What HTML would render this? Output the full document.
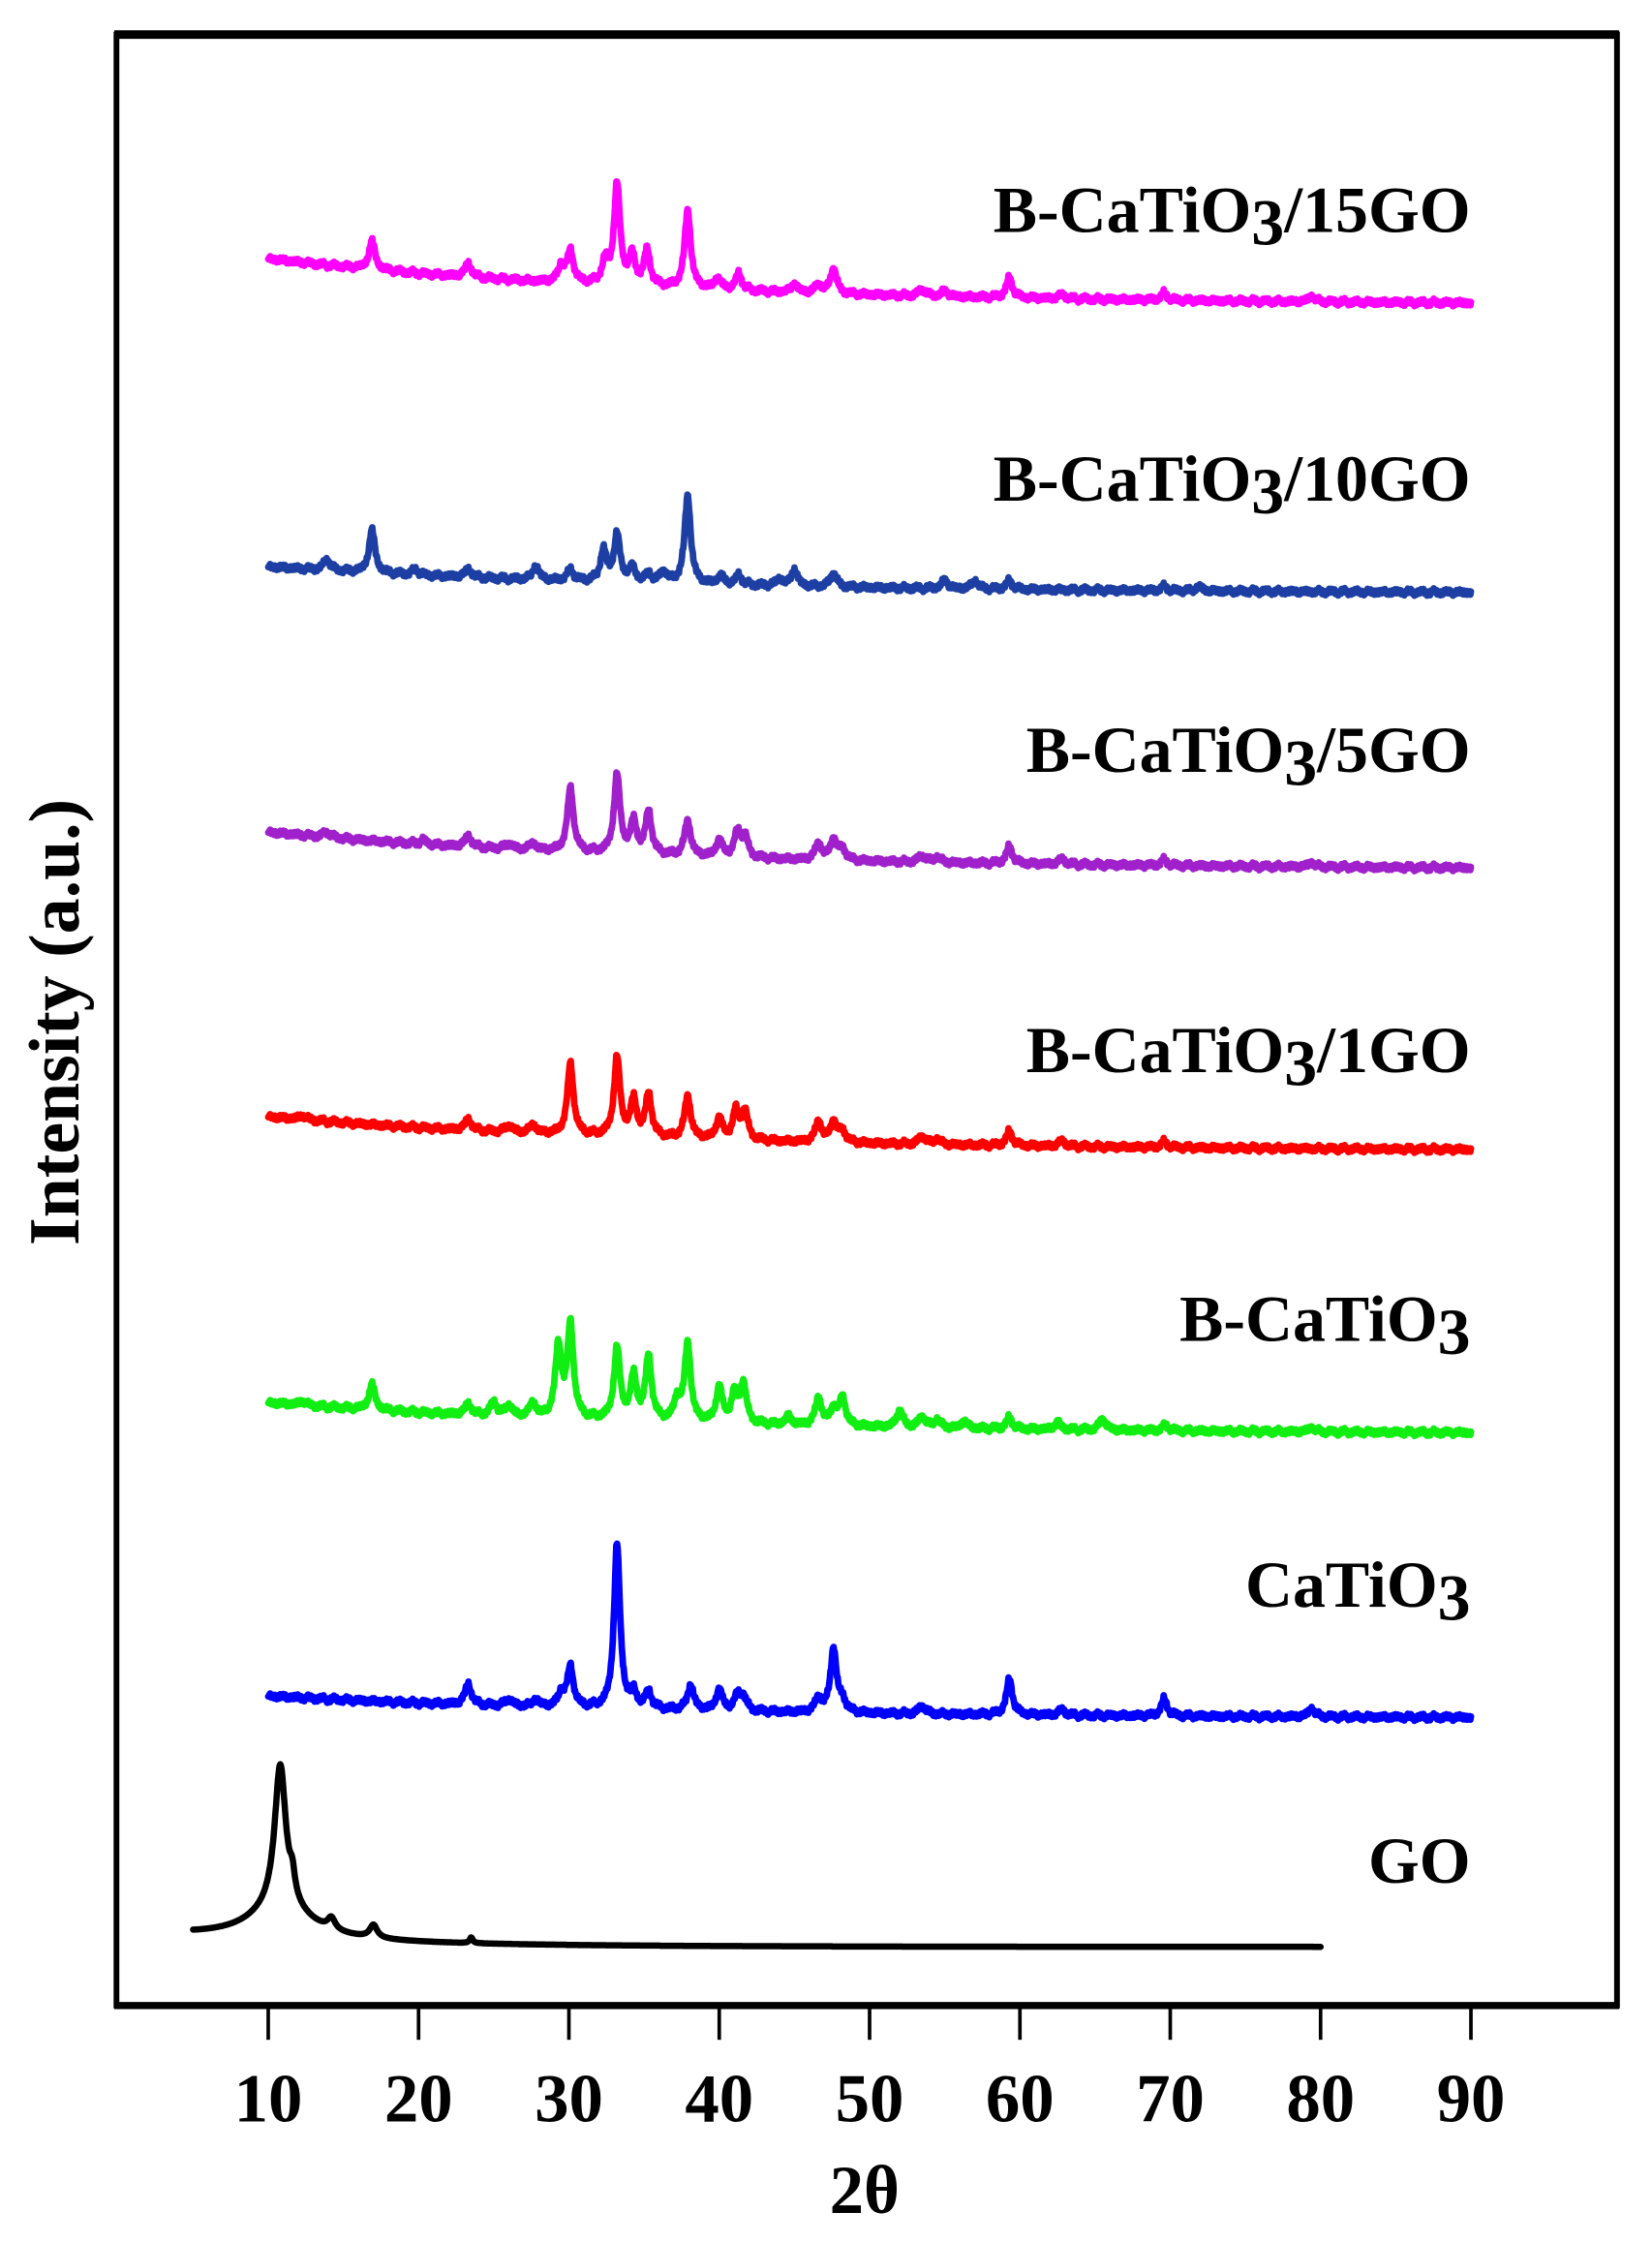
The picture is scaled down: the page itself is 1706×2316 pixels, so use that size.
<!DOCTYPE html>
<html><head><meta charset="utf-8"><style>
html,body{margin:0;padding:0;background:#fff;}
svg{display:block;}
text{font-family:"Liberation Serif",serif;font-weight:bold;fill:#000;}
</style></head><body>
<svg id="s" width="1706" height="2316" viewBox="0 0 1156 1569" xmlns="http://www.w3.org/2000/svg">
<rect x="0" y="0" width="1156" height="1569" fill="#fff"/>
<g id="curves" fill="none" stroke-linejoin="round" stroke-linecap="round"></g>
<rect x="81.5" y="24" width="1050" height="1379" fill="none" stroke="#000" stroke-width="4"/>
<line x1="80" y1="24" x2="1133" y2="24" stroke="#000" stroke-width="6"/>
<line x1="80" y1="1403" x2="1133" y2="1403" stroke="#000" stroke-width="5"/>
<g stroke="#000" stroke-width="2.5">
<line x1="187.7" y1="1403" x2="187.7" y2="1427"/><line x1="292.9" y1="1403" x2="292.9" y2="1427"/>
<line x1="398.1" y1="1403" x2="398.1" y2="1427"/><line x1="503.3" y1="1403" x2="503.3" y2="1427"/>
<line x1="608.5" y1="1403" x2="608.5" y2="1427"/><line x1="713.7" y1="1403" x2="713.7" y2="1427"/>
<line x1="818.9" y1="1403" x2="818.9" y2="1427"/><line x1="924.1" y1="1403" x2="924.1" y2="1427"/>
<line x1="1029.3" y1="1403" x2="1029.3" y2="1427"/>
</g>
<g font-size="48" text-anchor="middle">
<text x="187.7" y="1484">10</text><text x="292.9" y="1484">20</text><text x="398.1" y="1484">30</text>
<text x="503.3" y="1484">40</text><text x="608.5" y="1484">50</text><text x="713.7" y="1484">60</text>
<text x="818.9" y="1484">70</text><text x="924.1" y="1484">80</text><text x="1029.3" y="1484">90</text>
<text x="605" y="1548">2θ</text>
</g>
<text transform="translate(55,715) rotate(-90)" font-size="50" text-anchor="middle">Intensity (a.u.)</text>
<g font-size="46" text-anchor="end">
<text x="1029" y="162">B-CaTiO<tspan dy="9">3</tspan><tspan dy="-9">/15GO</tspan></text>
<text x="1029" y="350">B-CaTiO<tspan dy="9">3</tspan><tspan dy="-9">/10GO</tspan></text>
<text x="1029" y="540">B-CaTiO<tspan dy="9">3</tspan><tspan dy="-9">/5GO</tspan></text>
<text x="1029" y="750">B-CaTiO<tspan dy="9">3</tspan><tspan dy="-9">/1GO</tspan></text>
<text x="1029" y="938">B-CaTiO<tspan dy="9">3</tspan></text>
<text x="1029" y="1124">CaTiO<tspan dy="9">3</tspan></text>
<text x="1029" y="1317">GO</text>
</g>
</svg>
<script>
(function(){
var X=function(v){return 187.7+(v-10)*10.52;};
var series=[
{c:"#ff00ff",y0:182,y1:213,p:[[16.9,20],[23.3,10],[29.5,12],[30.1,22],[32.4,15],[33.2,70],[34.2,20],[35.2,25],[37.9,55],[39.9,8],[41.3,12],[45,6],[46.6,6],[47.6,18],[53.5,5],[55,4],[59.3,14],[62.8,3],[69.6,5],[79.4,4]]},
{c:"#1d3fa3",y0:397,y1:415,p:[[13.9,8],[16.9,30],[19.8,4],[23.3,6],[27.8,10],[30.1,8],[32.3,22],[33.2,33],[34.2,10],[35.3,6],[36.3,8],[37.9,62],[40.1,6],[41.3,7],[44,5],[45,12],[47.6,10],[55,6],[57,6],[59.3,6],[69.6,3],[71.9,3]]},
{c:"#a020cc",y0:583,y1:608,p:[[13.9,4],[20.3,3],[23.3,8],[26,4],[27.6,5],[30.1,45],[33.2,55],[34.3,22],[35.3,30],[37.9,25],[40,12],[41.2,17],[41.7,15],[46.6,12],[47.6,15],[48.2,8],[53.5,5],[54.5,4],[59.3,12],[62.8,4],[69.6,4],[79.4,3]]},
{c:"#ff0000",y0:782,y1:805,p:[[12.3,3],[23.3,8],[26,5],[27.6,6],[30.1,50],[33.2,55],[34.3,25],[35.3,30],[37.9,30],[40,15],[41.1,20],[41.7,20],[46.6,15],[47.6,15],[48.2,8],[53.5,6],[54.5,4],[59.3,10],[62.8,4],[69.6,4]]},
{c:"#11ee11",y0:982,y1:1003,p:[[12.3,3],[16.9,18],[23.3,8],[25,10],[26,8],[27.6,10],[29.3,50],[30.1,65],[33.2,50],[34.3,30],[35.3,45],[37.2,15],[37.9,55],[40,25],[41,20],[41.6,28],[44.6,6],[46.6,20],[47.6,12],[48.2,20],[52,12],[53.5,8],[54.5,6],[56.3,5],[59.3,8],[62.5,5],[65.5,8],[69.7,4],[79.4,3]]},
{c:"#0000ff",y0:1187,y1:1202,p:[[23.3,15],[26,5],[27.8,5],[29.5,10],[30.1,28],[33.2,115],[34.3,10],[35.3,12],[38.1,18],[40,15],[41.2,10],[41.6,10],[46.6,10],[47.6,45],[48.2,8],[53.5,6],[59.3,25],[62.8,4],[69.6,12],[79.4,6]]}
];
var g=document.getElementById("curves"),NS="http://www.w3.org/2000/svg";
function add(d,c,w){var p=document.createElementNS(NS,"path");p.setAttribute("d",d);p.setAttribute("stroke",c);p.setAttribute("stroke-width",w);g.appendChild(p);}
series.forEach(function(s){
 var d="";
 for(var v=10;v<=90.001;v+=0.04){
  var t=(v-10)/80;
  var base=s.y1-(s.y1-s.y0)*Math.exp(-t*3.2)-(s.y1-s.y0)*0.04*(1-t);
  var y=base;
  for(var i=0;i<s.p.length;i++){var q=(v-s.p[i][0])/0.24;y-=s.p[i][1]/(1+q*q);}
  y+=Math.sin(v*37.1)*1.1+Math.sin(v*91.3)*0.8+Math.sin(v*7.3)*0.9;
  d+=(d?"L":"M")+X(v).toFixed(1)+" "+y.toFixed(1);
 }
 add(d,s.c,"4.6");
});
var d="";
for(var v=5;v<=80.001;v+=0.04){
 var base=1362-8*Math.exp(-(v-5)/12);
 var q=(v-10.8)/0.45,y=base-100/(1+q*q);
 var q2=(v-10.8)/2.5;y-=22/(1+q2*q2);
 var q3=(v-11.6)/0.2;y-=14/(1+q3*q3);
 var q4=(v-14.2)/0.3;y-=8/(1+q4*q4);
 var q5=(v-17)/0.3;y-=9/(1+q5*q5);
 var q6=(v-23.5)/0.12;y-=4/(1+q6*q6);
 d+=(d?"L":"M")+X(v).toFixed(1)+" "+y.toFixed(1);
}
add(d,"#000","4.4");
})();
</script>
</body></html>
